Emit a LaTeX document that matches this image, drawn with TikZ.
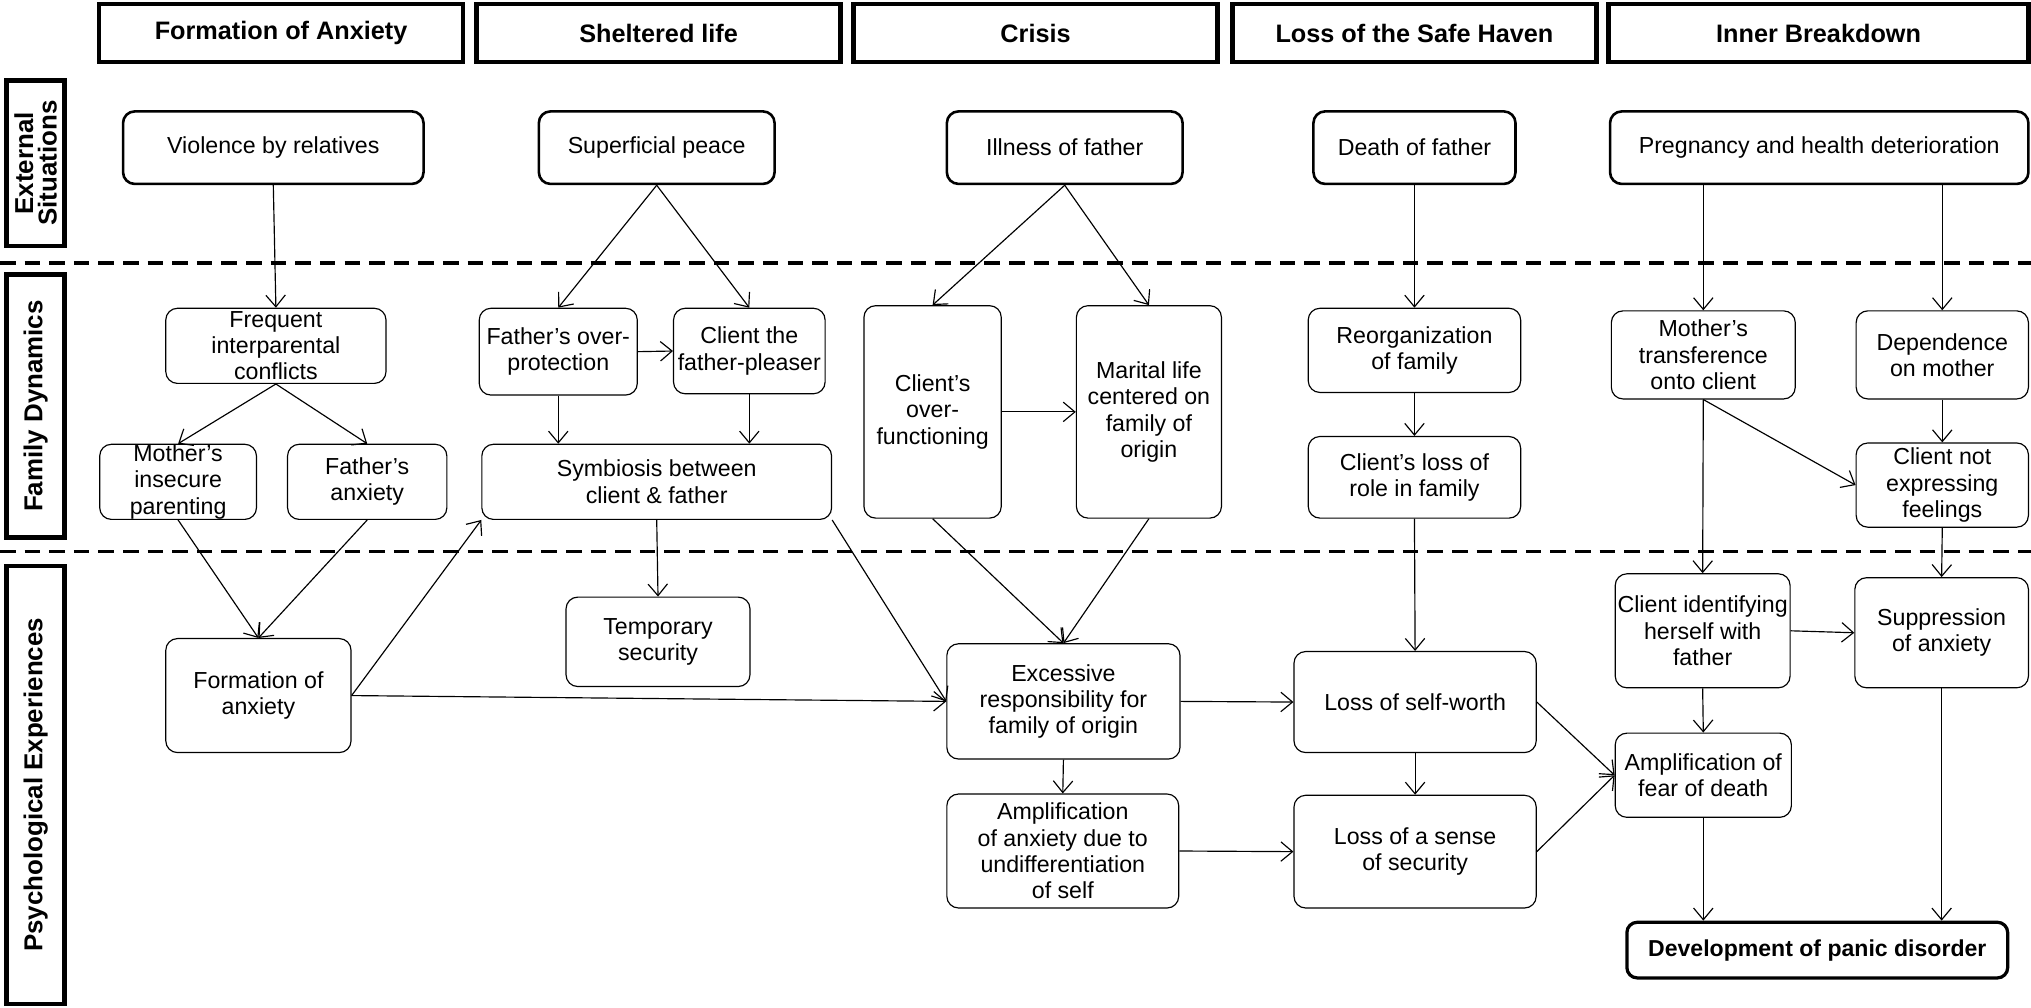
\documentclass[tikz,border=0pt]{standalone}
\usepackage{fontspec}
\setmainfont{Liberation Sans}
\usetikzlibrary{arrows.meta}
\begin{document}
\begin{tikzpicture}[x=1pt,y=-1pt,
  box/.style={draw, rounded corners=9pt, line width=0.9pt, align=center, inner sep=0pt,
    font=\fontsize{17.9}{20.3}\selectfont},
  topbox/.style={box, line width=2pt},
  hdr/.style={draw, line width=3.5pt, inner sep=0pt, minimum height=45,
    font=\bfseries\fontsize{19.5}{22}\selectfont},
  lab/.style={draw, line width=3.5pt, inner sep=0pt, minimum height=45, rotate=90, align=center,
    font=\bfseries\fontsize{20}{18}\selectfont},
  devbox/.style={draw, rounded corners=8pt, line width=2.5pt, inner sep=0pt,
    font=\bfseries\fontsize{17.8}{20}\selectfont},
  arr/.style={-{Straight Barb[length=9pt,width=15pt]}, line width=0.9pt},
  sep/.style={line width=2.5pt, dash pattern=on 12pt off 7pt}
]
\useasboundingbox (0,0) rectangle (1568,778);

% headers
\node[hdr, minimum width=281] (h1) at (217,25.5) {Formation of Anxiety};
\node[hdr, minimum width=281] (h2) at (508.5,25.5) {Sheltered life};
\node[hdr, minimum width=281] (h3) at (799.5,25.5) {Crisis};
\node[hdr, minimum width=281] (h4) at (1092,25.5) {Loss of the Safe Haven};
\node[hdr, minimum width=324] (h5) at (1404,25.5) {Inner Breakdown};

% side labels
\node[lab, minimum width=128] (l1) at (27.5,126) {External\\Situations};
\node[lab, minimum width=203] (l2) at (27.5,313.5) {Family Dynamics};
\node[lab, minimum width=338] (l3) at (27.5,606) {Psychological Experiences};

% separators
\coordinate (s1a) at (0,203); \coordinate (s1b) at (1568,203);
\coordinate (s2a) at (0,426); \coordinate (s2b) at (1568,426);
\draw[sep] (s1a) -- (s1b);
\draw[sep] (s2a) -- (s2b);

% row 1
\node[topbox, minimum width=232, minimum height=56] (viol) at (211,114) {Violence by relatives};
\node[topbox, minimum width=182, minimum height=56] (sp) at (507,114) {Superficial peace};
\node[topbox, minimum width=182, minimum height=56] (ill) at (822,114) {Illness of father};
\node[topbox, minimum width=156, minimum height=56] (death) at (1092,114) {Death of father};
\node[topbox, minimum width=323, minimum height=56] (preg) at (1404.5,114) {Pregnancy and health deterioration};

% row 2
\node[box, minimum width=170, minimum height=58] (freq) at (213,267) {Frequent\\interparental\\conflicts};
\node[box, minimum width=121, minimum height=58] (mip) at (137.5,372) {Mother’s\\insecure\\parenting};
\node[box, minimum width=123, minimum height=58] (fa) at (283.5,372) {Father’s\\anxiety};
\node[box, minimum width=122, minimum height=67] (fo) at (431,271.5) {Father’s over-\\protection};
\node[box, minimum width=117, minimum height=66] (cp) at (578.5,271) {Client the\\father-pleaser};
\node[box, minimum width=270, minimum height=58] (sym) at (507,372) {Symbiosis between\\client \& father};
\node[box, minimum width=106, minimum height=164] (cof) at (720,318) {Client’s\\over-\\functioning};
\node[box, minimum width=112, minimum height=164] (mar) at (887,318) {Marital life\\centered on\\family of\\origin};
\node[box, minimum width=164, minimum height=65] (reorg) at (1092,270.5) {Reorganization\\of family};
\node[box, minimum width=164, minimum height=63] (role) at (1092,368.5) {Client’s loss of\\role in family};
\node[box, minimum width=142, minimum height=68] (mt) at (1315,274) {Mother’s\\transference\\onto client};
\node[box, minimum width=133, minimum height=68] (dep) at (1499.5,274) {Dependence\\on mother};
\node[box, minimum width=133, minimum height=65] (cnef) at (1499.5,374.5) {Client not\\expressing\\feelings};

% row 3
\node[box, minimum width=143, minimum height=88] (form) at (199.5,537) {Formation of\\anxiety};
\node[box, minimum width=142, minimum height=69] (temp) at (508,495.5) {Temporary\\security};
\node[box, minimum width=180, minimum height=89] (exc) at (821,541.5) {Excessive\\responsibility for\\family of origin};
\node[box, minimum width=179, minimum height=88] (amp) at (820.5,657) {Amplification\\of anxiety due to\\undifferentiation\\of self};
\node[box, minimum width=187, minimum height=78] (sw) at (1092.5,542) {Loss of self-worth};
\node[box, minimum width=187, minimum height=87] (sec) at (1092.5,657.5) {Loss of a sense\\of security};
\node[box, minimum width=135, minimum height=88] (cid) at (1314.5,487) {Client identifying\\herself with\\father};
\node[box, minimum width=134, minimum height=85] (supp) at (1499,488.5) {Suppression\\of anxiety};
\node[box, minimum width=136, minimum height=65] (fear) at (1315,598.5) {Amplification of\\fear of death};
\node[devbox, minimum width=294, minimum height=43] (dev) at (1403,733.5) {Development of panic disorder};

% connectors
\draw[arr] (viol.south) -- (freq.north);
\draw[arr] (sp.south) -- (fo.north);
\draw[arr] (sp.south) -- (cp.north);
\draw[arr] (ill.south) -- (cof.north);
\draw[arr] (ill.south) -- (mar.north);
\draw[arr] (death.south) -- (reorg.north);
\draw[arr] (preg.south -| mt.north) -- (mt.north);
\draw[arr] (preg.south -| dep.north) -- (dep.north);

\draw[arr] (freq.south) -- (mip.north);
\draw[arr] (freq.south) -- (fa.north);
\draw[arr] (fo.east) -- (cp.west);
\draw[arr] (fo.south) -- (fo.south |- sym.north);
\draw[arr] (cp.south) -- (cp.south |- sym.north);
\draw[arr] (cof.east) -- (mar.west);
\draw[arr] (reorg.south) -- (role.north);
\draw[arr] (dep.south) -- (cnef.north);
\draw[arr] (mt.south) -- (cnef.west);

\draw[arr] (mip.south) -- (form.north);
\draw[arr] (fa.south) -- (form.north);
\draw[arr] (form.east) -- (sym.south west);
\draw[arr] (form.east) -- (exc.west);
\draw[arr] (sym.south) -- (temp.north);
\draw[arr] (sym.south east) -- (exc.west);
\draw[arr] (cof.south) -- (exc.north);
\draw[arr] (mar.south) -- (exc.north);
\draw[arr] (role.south) -- (sw.north);
\draw[arr] (mt.south) -- (cid.north);
\draw[arr] (cnef.south) -- (supp.north);

\draw[arr] (exc.east) -- (sw.west);
\draw[arr] (exc.south) -- (amp.north);
\draw[arr] (amp.east) -- (sec.west);
\draw[arr] (sw.south) -- (sec.north);
\draw[arr] (sw.east) -- (fear.west);
\draw[arr] (sec.east) -- (fear.west);
\draw[arr] (cid.east) -- (supp.west);
\draw[arr] (cid.south) -- (fear.north);
\draw[arr] (fear.south) -- (fear.south |- dev.north);
\draw[arr] (supp.south) -- (supp.south |- dev.north);
\end{tikzpicture}
\end{document}
